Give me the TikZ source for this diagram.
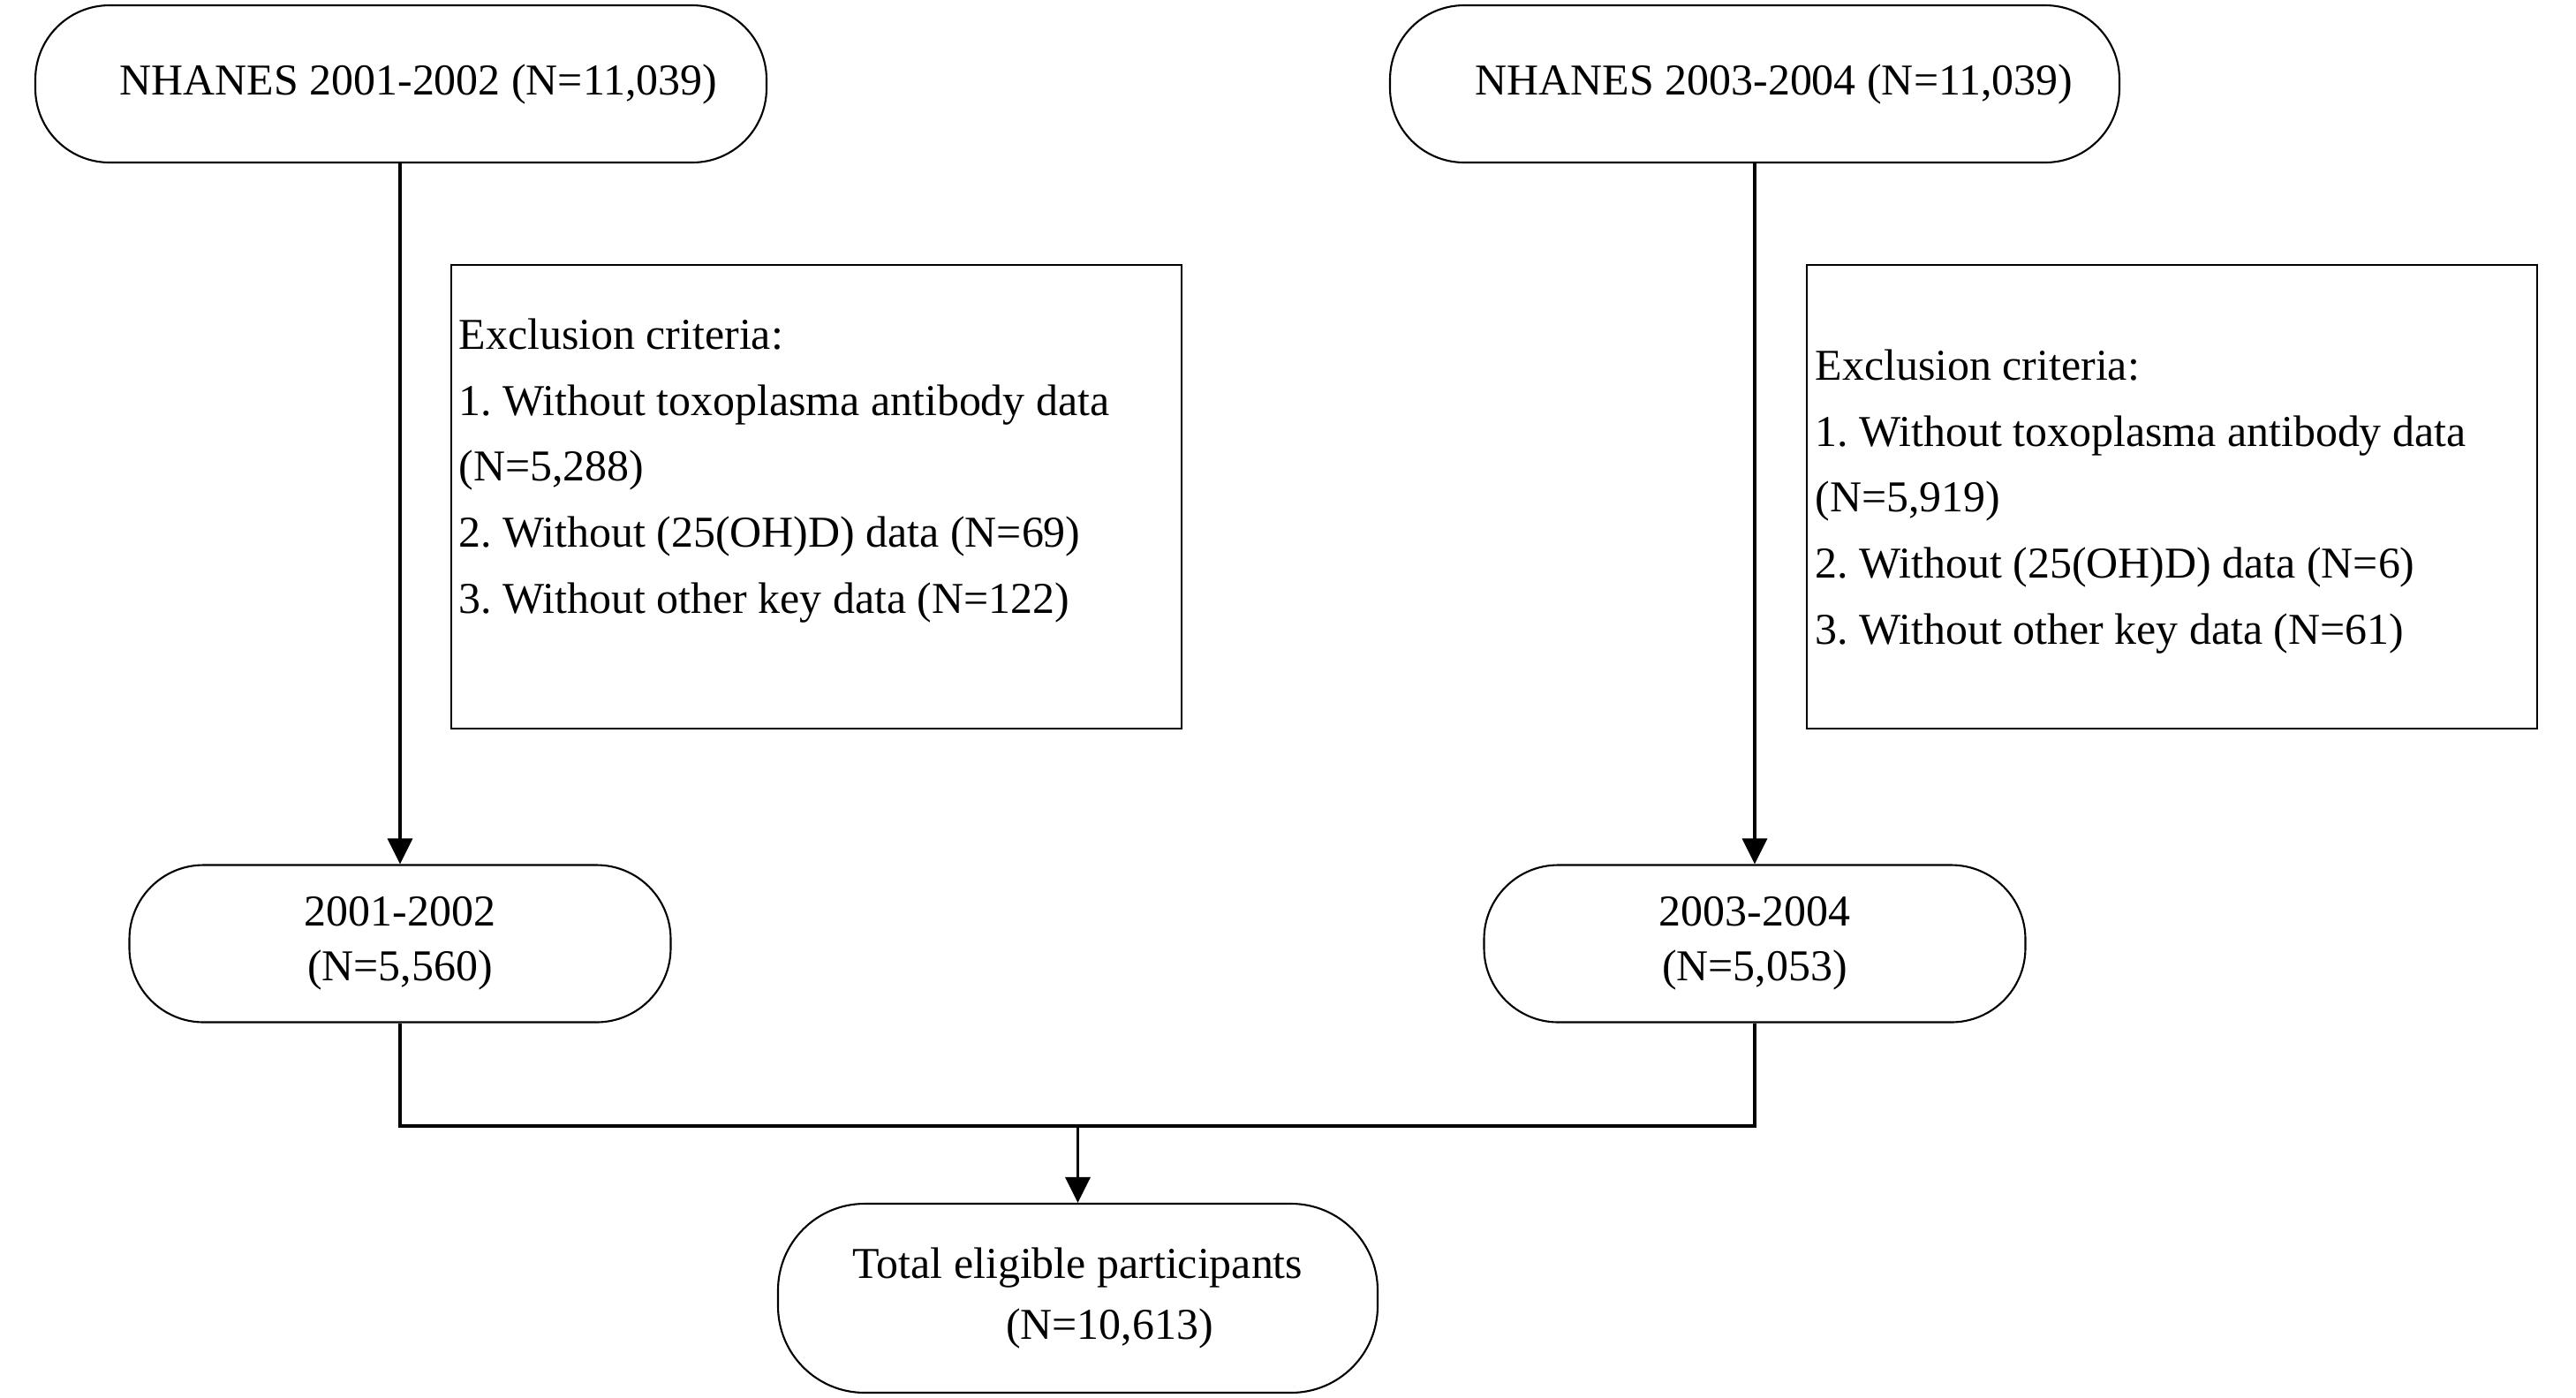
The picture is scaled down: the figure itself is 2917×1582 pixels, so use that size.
\documentclass[tikz,border=0pt]{standalone}
\usepackage{fontspec}
\setmainfont{Liberation Serif}
\usetikzlibrary{arrows.meta}
\begin{document}
\frenchspacing
\begin{tikzpicture}[x=0.1mm,y=-0.1mm,
  term/.style={draw, line width=0.6pt, rounded corners=8.4mm, minimum height=17.8mm,
    align=center, inner sep=0pt, font=\fontsize{14.2}{17.6}\selectfont},
  exbox/.style={draw, line width=0.6pt, minimum width=82.7mm, minimum height=52.5mm, inner sep=0pt},
  extxt/.style={align=left, inner sep=0pt, font=\fontsize{14.2}{21.3}\selectfont},
  conn/.style={line width=0.9pt},
  arr/.style={conn, -{Triangle[length=2.9mm,width=2.8mm]}}]
\useasboundingbox (0,0) rectangle (2917,1582);
\node[term, minimum width=82.8mm] (t1) at (454,95) {\hspace*{4mm}NHANES 2001-2002 (N=11,039)};
\node[term, minimum width=82.6mm] (t2) at (1987,95) {\hspace*{4.4mm}NHANES 2003-2004 (N=11,039)};
\node[exbox] (ex1) at (924.5,562.5) {};
\node[exbox] (ex2) at (2459.5,562.5) {};
\node[extxt, anchor=west] (ex1t) at (519,533) {Exclusion criteria:\\1. Without toxoplasma antibody data\\(N=5,288)\\2. Without (25(OH)D) data (N=69)\\3. Without other key data (N=122)};
\node[extxt, anchor=west] (ex2t) at (2055,568) {Exclusion criteria:\\1. Without toxoplasma antibody data\\(N=5,919)\\2. Without (25(OH)D) data (N=6)\\3. Without other key data (N=61)};
\node[term, minimum width=61.3mm] (m1) at (453,1068.5) {2001-2002\\(N=5,560)};
\node[term, minimum width=61.3mm] (m2) at (1987,1068.5) {2003-2004\\(N=5,053)};
\node[term, minimum width=67.9mm, minimum height=21.4mm, rounded corners=9.8mm,
  font=\fontsize{14.2}{19.6}\selectfont] (b) at (1220.5,1470) {Total eligible participants\\\hspace*{7.2mm}(N=10,613)};
\coordinate (j) at (1220.5,1275);
\draw[arr] (t1.south -| m1.north) -- (m1.north);
\draw[arr] (t2.south -| m2.north) -- (m2.north);
\draw[conn] (m1.south) -- (m1.south |- j) -- (m2.south |- j) -- (m2.south);
\draw[arr] (j) -- (b.north);
\end{tikzpicture}
\end{document}
